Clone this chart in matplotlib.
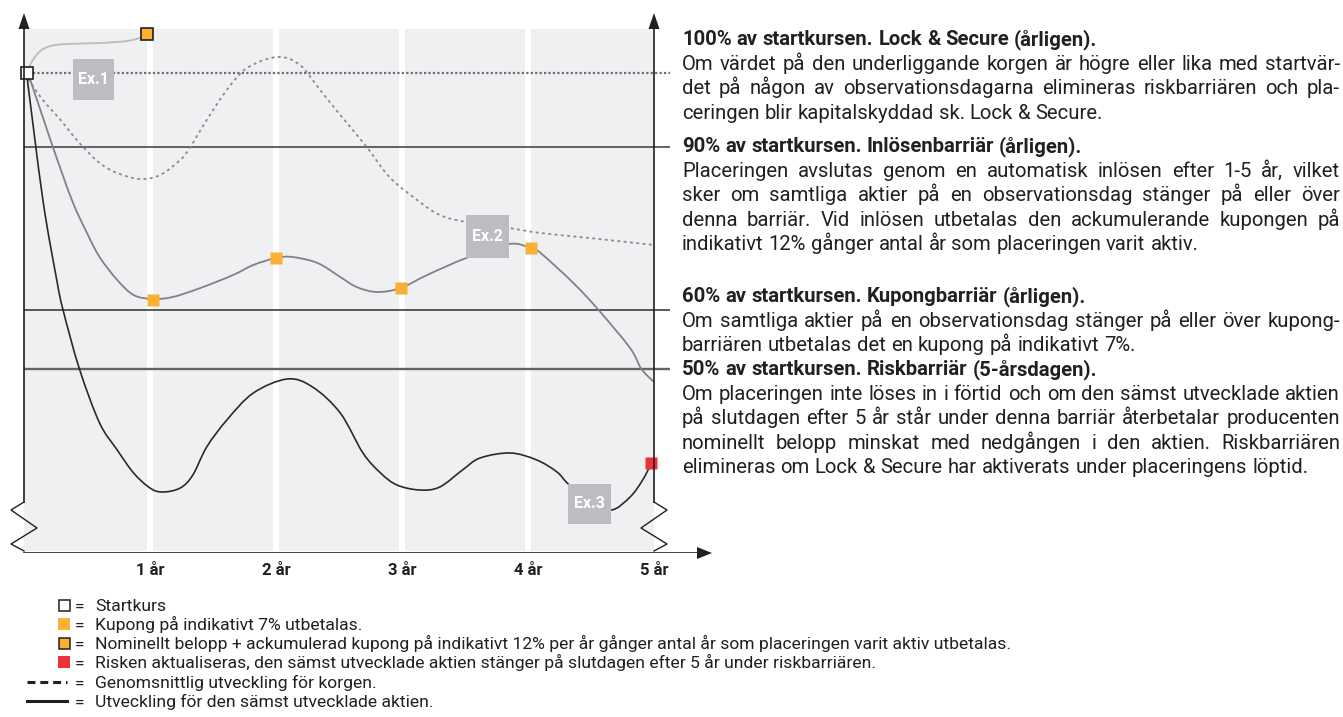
import numpy as np
import matplotlib
matplotlib.use("Agg")
import matplotlib.pyplot as plt
from matplotlib.path import Path
from matplotlib.patches import PathPatch, Rectangle, Polygon

FONT = "Roboto"
INK = "#231f20"
ORANGE = "#fbb034"
RED = "#ec3239"
BOX_GREY = "#bcbdc0"
BG = "#eff0f2"

# years on x, height above the x axis (schematic units) on y
years = [1, 2, 3, 4, 5]
year_labels = ["1 år", "2 år", "3 år", "4 år", "5 år"]

start = (0.02, 480)
lvl_100, lvl_90, lvl_60, lvl_50 = 480, 406, 243, 184

# Ex.1 - korgen stiger direkt, Lock & Secure + inlösen efter 1 år
ex1_t = [0.02, 0.03, 0.07, 0.13, 0.21, 0.34, 0.60, 0.82, 0.94, 0.98]
ex1_v = [480, 483, 493, 502, 507, 509, 510, 512, 516, 519]

# genomsnittlig utveckling för korgen (prickad)
avg_t = [0.02, 0.04, 0.15, 0.29, 0.44, 0.60, 0.74, 0.92, 1.08, 1.24, 1.32, 1.45, 1.61,
         1.77, 2.01, 2.19, 2.35, 2.51, 2.72, 2.90, 3.12, 3.30, 3.51, 3.85, 4.10, 4.49, 5.0]
avg_v = [480, 473, 453, 433, 410, 390, 380, 374, 378, 393, 406, 433, 463,
         485, 496, 488, 463, 438, 406, 376, 353, 338, 331, 325, 320, 315, 308]

# Ex.2 - kuponger varje år
ex2_t = [0.02, 0.05, 0.21, 0.38, 0.50, 0.60, 0.74, 0.87, 1.02, 1.18, 1.40, 1.66, 1.82, 2.0,
         2.13, 2.33, 2.51, 2.64, 2.80, 2.99, 3.20, 3.51, 3.85, 4.02, 4.10, 4.36, 4.56, 4.81,
         4.90, 5.0]
ex2_v = [480, 473, 413, 353, 320, 296, 273, 258, 254, 256, 265, 278, 288, 295,
         296, 290, 276, 266, 261, 265, 278, 295, 309, 305, 300, 270, 243, 205,
         184, 171]
coupon_t = [1.02, 2.0, 2.99, 4.02]
coupon_v = [253, 295, 265, 305]

# Ex.3 - sämst utvecklade aktien (svart)
ex3_t = [0.02, 0.15, 0.26, 0.31, 0.44, 0.60, 0.74, 0.87, 1.00, 1.10, 1.24, 1.34,
         1.45, 1.61, 1.82, 2.09, 2.29, 2.51, 2.69, 2.83, 2.96, 3.14, 3.30, 3.48, 3.62,
         3.86, 4.07, 4.23, 4.32, 4.49, 4.66, 4.81, 4.91, 4.98]
ex3_v = [480, 353, 273, 243, 184, 130, 103, 80, 65, 61, 65, 78,
         106, 133, 160, 174, 166, 140, 100, 80, 68, 63, 66, 83, 95,
         100, 93, 81, 69, 53, 43, 56, 73, 90]
risk_point = (4.98, 90)
redeem_point = (0.98, 519)

ex_labels = ["Ex.1", "Ex.2", "Ex.3"]
ex_boxes = [(0.389, 453, 0.325, 41), (3.508, 295, 0.341, 43), (4.317, 29, 0.342, 40)]

headings = ["100% av startkursen. Lock & Secure (årligen).",
            "90% av startkursen. Inlösenbarriär (årligen).",
            "60% av startkursen. Kupongbarriär (årligen).",
            "50% av startkursen. Riskbarriär (5-årsdagen)."]
paragraphs = [
    ["Om värdet på den underliggande korgen är högre eller lika med startvär-",
     "det på någon av observationsdagarna elimineras riskbarriären och pla-",
     "ceringen blir kapitalskyddad sk. Lock & Secure."],
    ["Placeringen avslutas genom en automatisk inlösen efter 1-5 år, vilket",
     "sker om samtliga aktier på en observationsdag stänger på eller över",
     "denna barriär. Vid inlösen utbetalas den ackumulerande kupongen på",
     "indikativt 12% gånger antal år som placeringen varit aktiv."],
    ["Om samtliga aktier på en observationsdag stänger på eller över kupong-",
     "barriären utbetalas det en kupong på indikativt 7%."],
    ["Om placeringen inte löses in i förtid och om den sämst utvecklade aktien",
     "på slutdagen efter 5 år står under denna barriär återbetalar producenten",
     "nominellt belopp minskat med nedgången i den aktien. Riskbarriären",
     "elimineras om Lock & Secure har aktiverats under placeringens löptid."],
]
heading_y = [38, 145, 295, 368]

legend_texts = ["Startkurs",
                "Kupong på indikativt 7% utbetalas.",
                "Nominellt belopp + ackumulerad kupong på indikativt 12% per år gånger antal år som placeringen varit aktiv utbetalas.",
                "Risken aktualiseras, den sämst utvecklade aktien stänger på slutdagen efter 5 år under riskbarriären.",
                "Genomsnittlig utveckling för korgen.",
                "Utveckling för den sämst utvecklade aktien."]


def smooth(xs, ys):
    # Catmull-Rom genom punkterna, ritad som bezier-path
    p = np.column_stack([xs, ys]).astype(float)
    n = len(p)
    verts = [p[0]]
    codes = [Path.MOVETO]
    for i in range(n - 1):
        p0 = p[max(i - 1, 0)]
        p1 = p[i]
        p2 = p[i + 1]
        p3 = p[min(i + 2, n - 1)]
        verts += [p1 + (p2 - p0) / 6, p2 - (p3 - p1) / 6, p2]
        codes += [Path.CURVE4] * 3
    return Path(verts, codes)


W, H = 1343, 717
fig = plt.figure(figsize=(W / 100, H / 100), dpi=100)
fig.patch.set_facecolor("white")

PX = 126.0  # pixlar per år
ax = fig.add_axes([0, (H - 553) / H, 720 / W, 553 / H])
ax.set_xlim(-24 / PX, 696 / PX)
ax.set_ylim(0, 553)
for s in ax.spines.values():
    s.set_visible(False)
ax.set_yticks([])
ax.set_xticks(years)
ax.set_xticklabels(year_labels, fontfamily=FONT, fontweight="bold", fontsize=12, color=INK)
ax.tick_params(axis="x", length=0, pad=7)
ax.patch.set_alpha(0)

# bakgrund och årsränder
ax.add_patch(Rectangle((0, 2), 5, 522, facecolor=BG, edgecolor="none", zorder=0))
ax.vlines(years[:-1], 2, 524, color="white", lw=4.3, zorder=1)

# barriärer
ax.hlines(lvl_100, 0, 5.127, color="#6d6e71", lw=1.6, linestyles=(0, (1.0, 1.0)), zorder=2)
ax.hlines(lvl_90, 0, 5.127, color="#3a3a3c", lw=1.1, zorder=2)
ax.hlines(lvl_60, 0, 5.127, color="#2e2e30", lw=1.1, zorder=2)
ax.hlines(lvl_50, 0, 5.127, color="#636466", lw=1.7, zorder=2)

# kurvor
ax.add_patch(PathPatch(smooth(ex1_t, ex1_v), fill=False, edgecolor="#bcbec0", lw=1.4, zorder=3))
ax.add_patch(PathPatch(smooth(avg_t, avg_v), fill=False, edgecolor="#8a8b8e", lw=1.3,
                       linestyle=(0, (1.6, 1.9)), zorder=3))
ax.add_patch(PathPatch(smooth(ex2_t, ex2_v), fill=False, edgecolor="#808285", lw=1.3, zorder=3))
ax.add_patch(PathPatch(smooth(ex3_t, ex3_v), fill=False, edgecolor="#2b2a2b", lw=1.2, zorder=3))

# markeringar
ax.plot(coupon_t, coupon_v, "s", ms=8.6, mfc=ORANGE, mec="none", zorder=5)
ax.plot(*redeem_point, "s", ms=8.2, mfc=ORANGE, mec=INK, mew=1.2, zorder=5)
ax.plot(*risk_point, "s", ms=8.6, mfc=RED, mec="none", zorder=5)
ax.plot(*start, "s", ms=8.2, mfc="white", mec=INK, mew=1.2, zorder=6)

for lab, (bx, by, bw, bh) in zip(ex_labels, ex_boxes):
    ax.add_patch(Rectangle((bx, by), bw, bh, facecolor=BOX_GREY, edgecolor="none", zorder=6))
    ax.text(bx + bw / 2, by + bh / 2, lab, ha="center", va="center", color="white",
            fontfamily=FONT, fontweight="bold", fontsize=11.5, zorder=7)

# axlar med pilar och brytmarkering
dx = 5.5 / PX
for xa, sgn in [(0, -1), (5, 1)]:
    ax.plot([xa, xa], [51, 530], color=INK, lw=1.2, zorder=8)
    ax.add_patch(Polygon([[xa - dx, 524], [xa + dx, 524], [xa, 540]], closed=True,
                         facecolor=INK, edgecolor="none", zorder=8, clip_on=False))
    zx = [xa, xa + sgn * 13 / PX, xa - sgn * 13 / PX, xa + sgn * 13 / PX, xa]
    zy = [51, 43, 25, 9, 2]
    ax.plot(zx, zy, color=INK, lw=1.0, zorder=8)
ax.plot([0, 673 / PX], [0, 0], color=INK, lw=1.2, zorder=8)
ax.add_patch(Polygon([[673 / PX, -6], [673 / PX, 6], [688 / PX, 0]], closed=True,
                     facecolor=INK, edgecolor="none", zorder=8, clip_on=False))

# textpanel i pixelkoordinater
tx = fig.add_axes([0, 0, 1, 1])
tx.set_xlim(0, W)
tx.set_ylim(H, 0)
tx.axis("off")
tx.patch.set_alpha(0)
renderer = fig.canvas.get_renderer()

X0, X1 = 682, 1340
BODY = 14.6


def text_line(s, y, justify, bold=False, size=BODY):
    # y är radens mitt; ord placeras på gemensam baslinje
    base = y + 0.36 * size * 100 / 72
    words = s.split(" ")
    objs = [tx.text(0, base, w, fontfamily=FONT, fontsize=size, color=INK, va="baseline",
                    fontweight="bold" if bold else "normal") for w in words]
    widths = [o.get_window_extent(renderer).width for o in objs]
    sp = tx.text(0, base, "a a", fontfamily=FONT, fontsize=size)
    aa = tx.text(0, base, "aa", fontfamily=FONT, fontsize=size)
    space = sp.get_window_extent(renderer).width - aa.get_window_extent(renderer).width
    sp.remove()
    aa.remove()
    gap = space
    if justify and len(words) > 1:
        gap = (X1 - X0 - sum(widths)) / (len(words) - 1)
    x = X0
    for o, w in zip(objs, widths):
        o.set_x(x)
        x += w + gap


LINE = 24.5
for head, hy, para in zip(headings, heading_y, paragraphs):
    text_line(head, hy, False, bold=True)
    for i, line in enumerate(para):
        text_line(line, hy + LINE * (i + 1), i < len(para) - 1)

# teckenförklaring
LEG = 12.6
leg_y = [605, 624, 643, 662, 682, 701]
for txt, ly in zip(legend_texts, leg_y):
    base = ly + 0.36 * LEG * 100 / 72
    tx.text(80, base, "=", fontfamily=FONT, fontsize=LEG, color=INK, va="baseline", ha="center")
    tx.text(95, base, txt, fontfamily=FONT, fontsize=LEG, color=INK, va="baseline")
tx.add_patch(Rectangle((58.5, leg_y[0] - 5.5), 11, 11, facecolor="white", edgecolor=INK, lw=1.1))
tx.add_patch(Rectangle((58, leg_y[1] - 6), 12, 12, facecolor=ORANGE, edgecolor="none"))
tx.add_patch(Rectangle((58.5, leg_y[2] - 5.5), 11, 11, facecolor=ORANGE, edgecolor=INK, lw=1.1))
tx.add_patch(Rectangle((58, leg_y[3] - 6), 12, 12, facecolor=RED, edgecolor="none"))
tx.plot([27, 67], [leg_y[4], leg_y[4]], color=INK, lw=2.2, linestyle=(0, (2.6, 1.6)))
tx.plot([27, 67], [leg_y[5], leg_y[5]], color=INK, lw=2.2)

fig.savefig("out.png", dpi=100)
